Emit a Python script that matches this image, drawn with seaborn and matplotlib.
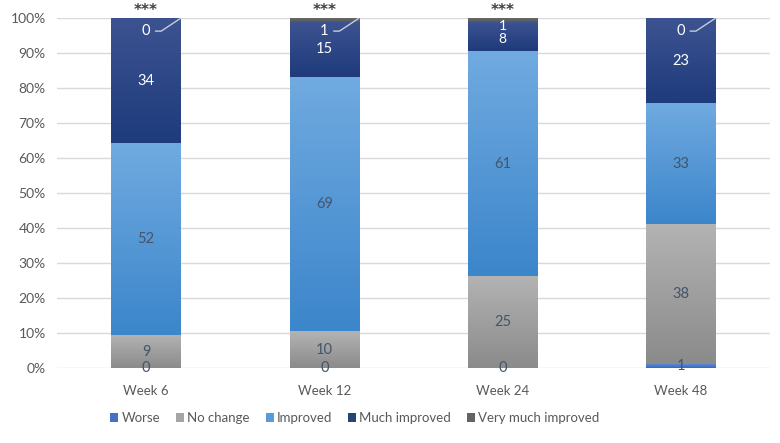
import numpy as np
import pandas as pd
import matplotlib
matplotlib.use("Agg")
import matplotlib.pyplot as plt
import seaborn as sns
from matplotlib.colors import LinearSegmentedColormap
from matplotlib.patches import Patch
from matplotlib.ticker import PercentFormatter

# data (number of patients per response category)
weeks = ["Week 6", "Week 12", "Week 24", "Week 48"]
categories = ["Worse", "No change", "Improved", "Much improved", "Very much improved"]
worse = [0, 0, 0, 1]
no_change = [9, 10, 25, 38]
improved = [52, 69, 61, 33]
much_improved = [34, 15, 8, 23]
very_much_improved = [0, 1, 1, 0]
significance = ["***", "***", "***", ""]

# styling
legend_colors = ["#4472c4", "#a5a5a5", "#5b9bd5", "#264478", "#636363"]
grad_top = ["#5b8ad8", "#b3b3b3", "#70aae0", "#3d5391", "#6a6a6a"]
grad_bottom = ["#3a67ba", "#8b8b8b", "#3c86cb", "#1e3b7b", "#575757"]
label_colors = ["#44546a", "#44546a", "#44546a", "white", "white"]
text_col = "#595959"


def fill_gradient(ax, patch, top, bottom):
    x, y = patch.get_x(), patch.get_y()
    w, h = patch.get_width(), patch.get_height()
    if h <= 0:
        patch.set_visible(False)
        return
    cmap = LinearSegmentedColormap.from_list("g", [bottom, top])
    grad = np.linspace(0, 1, 64).reshape(-1, 1)
    ax.imshow(grad, cmap=cmap, extent=(x, x + w, y, y + h), origin="lower",
              aspect="auto", zorder=2, interpolation="bilinear")
    patch.set_facecolor("none")
    patch.set_edgecolor("none")


def main():
    sns.set_theme(style="white")
    plt.rcParams["font.family"] = ["Lato", "DejaVu Sans"]

    series = [worse, no_change, improved, much_improved, very_much_improved]
    counts = np.array(series, dtype=float)
    totals = counts.sum(axis=0)
    pct = counts / totals * 100
    bottoms = np.vstack([np.zeros(len(weeks)), np.cumsum(pct, axis=0)[:-1]])

    fig = plt.figure(figsize=(7.8, 4.43), dpi=100)
    ax = fig.add_axes([0.073, 0.169, 0.914, 0.79])

    for k, cat in enumerate(categories):
        df = pd.DataFrame({"week": weeks, "pct": pct[k]})
        n0 = len(ax.patches)
        sns.barplot(data=df, x="week", y="pct", order=weeks, color=legend_colors[k],
                    width=0.39, ax=ax, zorder=2)
        for i, p in enumerate(ax.patches[n0:]):
            p.set_y(bottoms[k][i])
            fill_gradient(ax, p, grad_top[k], grad_bottom[k])

        for i in range(len(weeks)):
            val = series[k][i]
            xc = i
            yc = bottoms[k][i] + pct[k][i] / 2
            if cat == "Very much improved":
                if val == 0 or i == 1:
                    ax.text(xc, 96.3, str(val), ha="center", va="center",
                            color="white", fontsize=10.5, zorder=5)
                    ax.plot([xc + 0.05, xc + 0.085, xc + 0.195], [96.3, 96.3, 100],
                            color="#c8cdd8", lw=1, zorder=5, solid_capstyle="butt")
                else:
                    ax.text(xc, 97.7, str(val), ha="center", va="center",
                            color="white", fontsize=10, zorder=5)
            elif cat == "Much improved" and pct[k][i] < 10:
                ax.text(xc, yc - 0.8, str(val), ha="center", va="center",
                        color=label_colors[k], fontsize=10, zorder=5)
            else:
                ax.text(xc, yc, str(val), ha="center", va="center",
                        color=label_colors[k], fontsize=10.5, zorder=5)

    for i, s in enumerate(significance):
        if s:
            ax.text(i, 102.1, s, ha="center", va="center", fontsize=11,
                    family="DejaVu Sans", fontweight="bold",
                    color="#404040", clip_on=False, zorder=6)

    ax.set_xlim(-0.5, len(weeks) - 0.5)
    ax.set_ylim(0, 100)
    ax.set_yticks(np.arange(0, 101, 10))
    ax.yaxis.set_major_formatter(PercentFormatter(decimals=0))
    ax.grid(axis="y", color="#d9d9d9", lw=1, zorder=0)
    ax.set_axisbelow(True)
    for sp in ax.spines.values():
        sp.set_visible(False)
    ax.tick_params(axis="y", length=0, labelsize=10, colors=text_col, pad=8)
    ax.tick_params(axis="x", length=0, labelsize=9.5, colors=text_col, pad=12)
    ax.set_xlabel("")
    ax.set_ylabel("")

    handles = [Patch(facecolor=c, edgecolor="none") for c in legend_colors]
    fig.legend(handles, categories, loc="center", bbox_to_anchor=(0.455, 0.056),
               ncol=5, frameon=False, fontsize=9.5, handlelength=0.6, handleheight=0.6,
               handletextpad=0.25, columnspacing=1.2, labelcolor=text_col)

    fig.savefig("out.png", dpi=100)


if __name__ == "__main__":
    main()
